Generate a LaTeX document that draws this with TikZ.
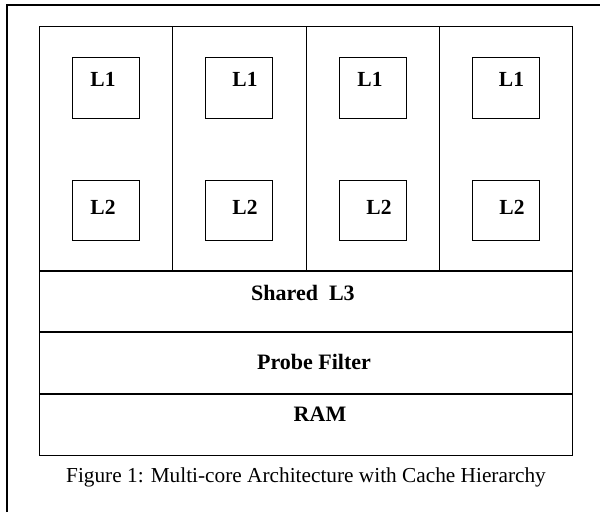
\documentclass[tikz,border=0pt]{standalone}
\usepackage{fontspec}
\setmainfont{Liberation Serif}
\usetikzlibrary{positioning}

\begin{document}
\begin{tikzpicture}[x=1pt,y=-1pt,
		core/.style={draw,line width=1pt,minimum width=133.4pt,minimum height=243.3pt,inner sep=0pt},
		cachebox/.style={draw,line width=1pt,minimum width=67pt,minimum height=60.7pt,inner sep=0pt},
		corelbl/.style={font=\fontsize{21.5}{25}\selectfont\bfseries,anchor=base,inner sep=0pt},
		layer/.style={draw,line width=1pt,minimum width=533.6pt,minimum height=60.7pt,inner sep=0pt,anchor=north west},
		layerlbl/.style={font=\fontsize{22}{26}\selectfont\bfseries,anchor=base,inner sep=0pt}]
		\useasboundingbox (0,0) rectangle (600,512);
		\draw[line width=1.3pt] (7,512) -- (7,5) -- (600,5);
		% the four cores with their private caches
		\foreach \i/\xa/\xb in {1/103/103, 2/245/245, 3/370/379, 4/511.5/512}{
			\node[core] (core\i) at ({106+133.4*(\i-1)},148.4) {};
			\node[cachebox, below=30.6pt of core\i.north] (lone\i) {};
			\node[cachebox, below=61pt of lone\i] (ltwo\i) {};
			\node[corelbl] (tone\i) at (\xa,86) {L1};
			\node[corelbl] (ttwo\i) at (\xb,214.3) {L2};
		}
		% shared levels
		\node[layer] (shared) at (core1.south west) {};
		\node[layer] (probe) at (shared.south west) {};
		\node[layer] (ram) at (probe.south west) {};
		\node[layerlbl] (tshared) at (303,300) {Shared~~L3};
		\node[layerlbl] (tprobe) at (314,369.3) {Probe Filter};
		\node[layerlbl] (tram) at (320,421.7) {RAM};
		\node[font=\fontsize{21.3}{25}\selectfont,anchor=base,inner sep=0pt] (caption) at (306,482.7) {Figure 1: Multi-core Architecture with Cache Hierarchy};
\end{tikzpicture}
\end{document}
